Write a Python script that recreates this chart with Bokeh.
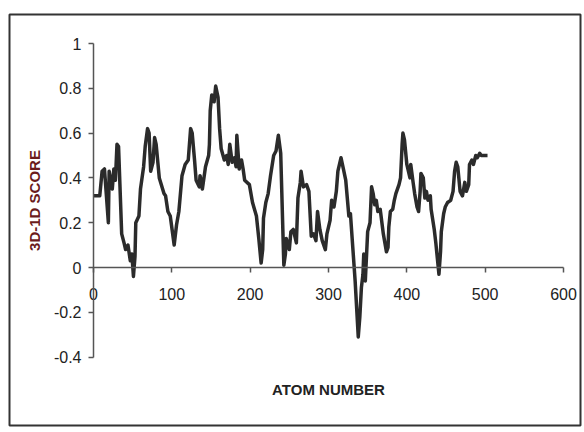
from bokeh.plotting import figure
from bokeh.models import FixedTicker, BoxAnnotation, Range1d
from bokeh.embed import file_html
from bokeh.resources import INLINE

# 3D-1D profile score along the sequence
atom_number = [
    0, 8, 11, 14, 19, 20, 24, 26, 28, 30, 32, 36, 39, 41, 44, 47, 49, 51, 53, 54,
    58, 60, 64, 66, 69, 71, 73, 76, 78, 80, 84, 90, 92, 95, 98, 103, 106, 109, 113, 117,
    121, 124, 126, 129, 131, 135, 136, 139, 143, 147, 148, 149, 151, 154, 156, 159, 161, 163, 167, 170,
    172, 174, 177, 180, 182, 183, 186, 189, 191, 193, 199, 203, 208, 211, 214, 216, 217, 220, 223, 226,
    230, 233, 236, 239, 243, 245, 246, 250, 252, 255, 259, 261, 264, 265, 268, 272, 275, 278, 281, 284,
    286, 289, 292, 296, 298, 302, 304, 307, 310, 312, 316, 319, 322, 326, 328, 331, 334, 338, 340, 342,
    344, 345, 347, 350, 353, 355, 357, 359, 361, 363, 366, 370, 374, 376, 377, 379, 382, 384, 386, 390,
    392, 394, 395, 397, 400, 404, 405, 408, 410, 413, 415, 417, 418, 421, 423, 425, 427, 430, 431, 435,
    437, 441, 443, 444, 447, 449, 452, 456, 459, 461, 463, 465, 468, 471, 474, 476, 479, 480, 483, 485,
    488, 490, 493, 495, 503,
]
score = [
    0.32, 0.32, 0.43, 0.44, 0.20, 0.43, 0.35, 0.44, 0.39, 0.55, 0.54, 0.15, 0.11, 0.08, 0.10, 0.03, 0.06, -0.04, 0.05, 0.20,
    0.23, 0.35, 0.45, 0.54, 0.62, 0.60, 0.43, 0.47, 0.58, 0.55, 0.40, 0.33, 0.32, 0.25, 0.23, 0.10, 0.19, 0.25, 0.41, 0.46,
    0.48, 0.62, 0.60, 0.48, 0.39, 0.36, 0.41, 0.35, 0.45, 0.50, 0.55, 0.70, 0.77, 0.74, 0.81, 0.76, 0.62, 0.53, 0.48, 0.50,
    0.46, 0.55, 0.47, 0.49, 0.45, 0.59, 0.44, 0.48, 0.44, 0.39, 0.37, 0.29, 0.23, 0.13, 0.02, 0.08, 0.22, 0.29, 0.33, 0.41,
    0.50, 0.52, 0.59, 0.51, 0.01, 0.06, 0.13, 0.08, 0.16, 0.17, 0.11, 0.31, 0.38, 0.43, 0.36, 0.37, 0.34, 0.14, 0.15, 0.12,
    0.25, 0.17, 0.12, 0.08, 0.15, 0.21, 0.30, 0.27, 0.34, 0.43, 0.49, 0.44, 0.39, 0.23, 0.24, 0.09, -0.06, -0.31, -0.22, -0.09,
    -0.03, 0.06, -0.06, 0.16, 0.20, 0.36, 0.33, 0.28, 0.30, 0.25, 0.26, 0.15, 0.07, 0.09, 0.18, 0.25, 0.26, 0.30, 0.33, 0.37,
    0.40, 0.55, 0.60, 0.57, 0.46, 0.40, 0.46, 0.38, 0.33, 0.27, 0.25, 0.34, 0.42, 0.40, 0.31, 0.34, 0.30, 0.32, 0.26, 0.17,
    0.11, -0.03, 0.07, 0.16, 0.24, 0.27, 0.29, 0.30, 0.34, 0.43, 0.47, 0.45, 0.34, 0.32, 0.38, 0.34, 0.37, 0.46, 0.48, 0.46,
    0.50, 0.49, 0.51, 0.50, 0.50,
]

x_ticks = [0, 100, 200, 300, 400, 500, 600]
x_tick_labels = ["0", "100", "200", "300", "400", "500", "600"]
y_ticks = [-0.4, -0.2, 0, 0.2, 0.4, 0.6, 0.8, 1.0]
y_tick_labels = ["-0.4", "-0.2", "0", "0.2", "0.4", "0.6", "0.8", "1"]

W, H = 584, 432
p = figure(
    width=W, height=H, output_backend="svg", toolbar_location=None,
    x_range=Range1d(-118.7, 626.8), y_range=Range1d(-0.7366, 1.192),
    min_border=0,
)
p.background_fill_color = "white"
p.border_fill_color = "white"
p.outline_line_color = None
p.grid.visible = False

p.line(atom_number, score, line_color="#2b2b2b", line_width=3.5, line_join="round")

tick_font = "Liberation Sans"

xa = p.xaxis[0]
xa.fixed_location = 0
xa.bounds = (0, 600)
xa.ticker = FixedTicker(ticks=x_ticks)
xa.major_label_overrides = {t: s for t, s in zip(x_ticks, x_tick_labels)}
xa.minor_tick_line_color = None
xa.major_tick_in = 0
xa.major_tick_out = 5
xa.axis_line_color = "#555555"
xa.axis_line_width = 1.5
xa.major_tick_line_color = "#555555"
xa.major_tick_line_width = 1.5
xa.major_label_standoff = 15
xa.major_label_text_font = tick_font
xa.major_label_text_font_size = "16px"
xa.major_label_text_color = "#222222"
xa.axis_label = "ATOM NUMBER"
xa.axis_label_standoff = 78
xa.axis_label_text_font = tick_font
xa.axis_label_text_font_style = "bold"
xa.axis_label_text_font_size = "15px"
xa.axis_label_text_color = "#222222"

ya = p.yaxis[0]
ya.fixed_location = 0
ya.bounds = (-0.4, 1.0)
ya.ticker = FixedTicker(ticks=y_ticks)
ya.major_label_overrides = {t: s for t, s in zip(y_ticks, y_tick_labels)}
ya.minor_tick_line_color = None
ya.major_tick_in = 0
ya.major_tick_out = 5
ya.axis_line_color = "#555555"
ya.axis_line_width = 1.5
ya.major_tick_line_color = "#555555"
ya.major_tick_line_width = 1.5
ya.major_label_standoff = 7
ya.major_label_text_font = tick_font
ya.major_label_text_font_size = "16px"
ya.major_label_text_color = "#222222"
ya.axis_label = "3D-1D SCORE"
ya.axis_label_standoff = 8
ya.axis_label_text_font = tick_font
ya.axis_label_text_font_style = "bold"
ya.axis_label_text_font_size = "15px"
ya.axis_label_text_color = "#6b1c1c"

# chart-area border
p.add_layout(BoxAnnotation(
    left=9, right=580, bottom=H - 425, top=H - 14,
    left_units="screen", right_units="screen", top_units="screen", bottom_units="screen",
    fill_alpha=0, line_color="#333333", line_alpha=1.0, line_width=2,
))

open("out.html", "w").write(file_html(p, INLINE))
